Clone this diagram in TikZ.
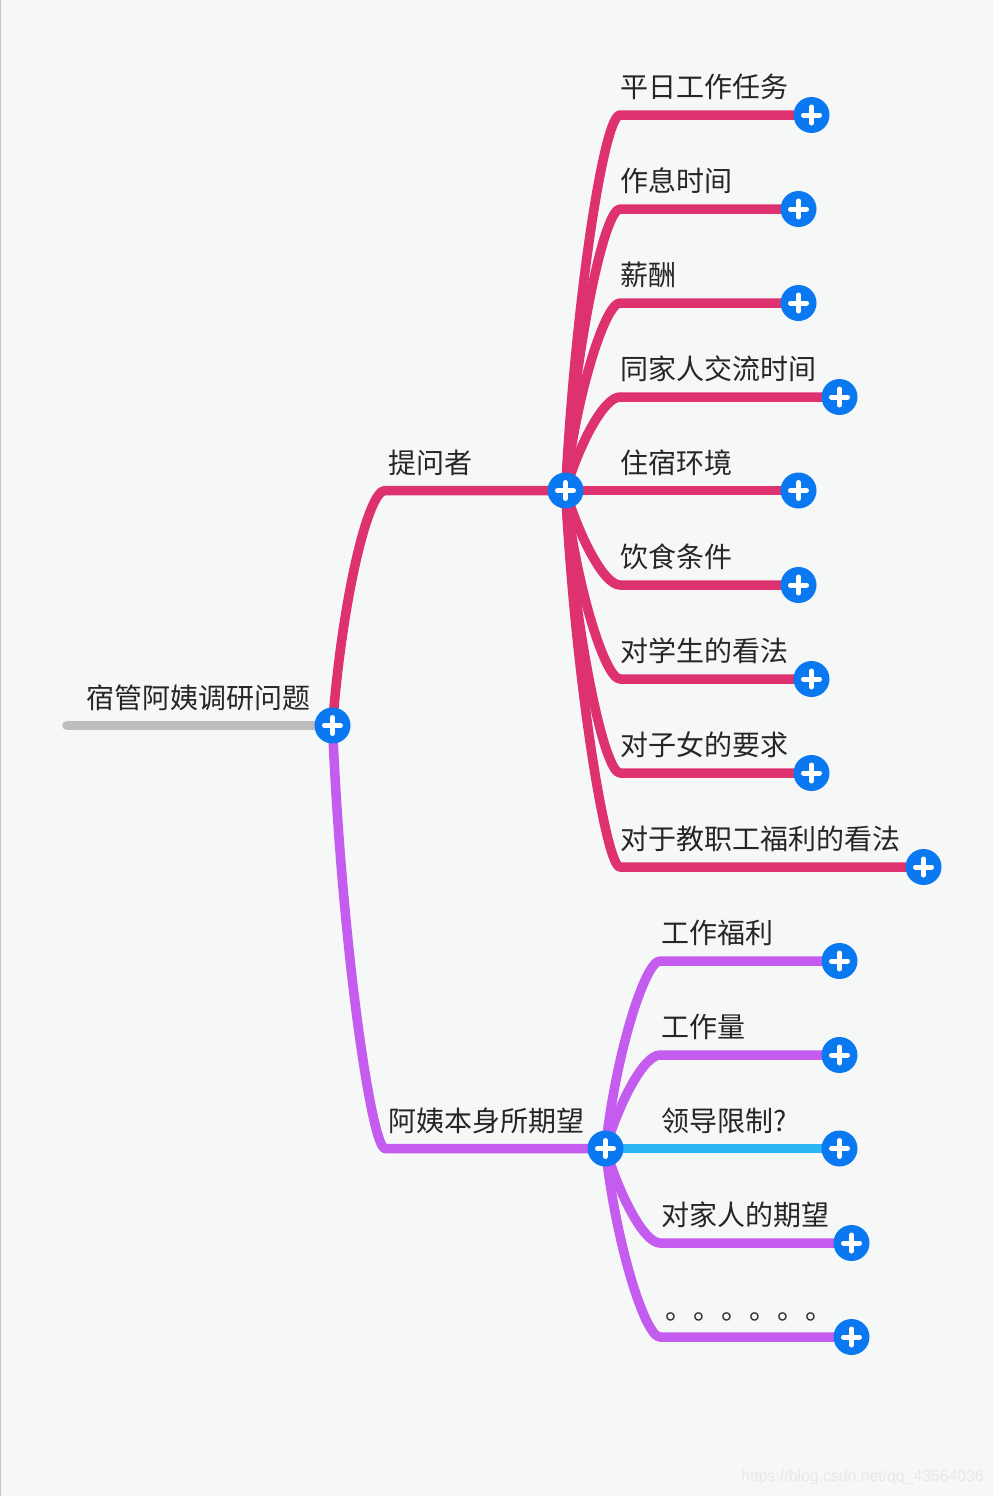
\documentclass[tikz,border=0pt]{standalone}
\usepackage{fontspec}
\setmainfont{Noto Sans CJK SC}
\newfontfamily\markfont{Liberation Sans}
\usetikzlibrary{positioning}
\definecolor{pagebg}{HTML}{F5F8F6}
\definecolor{btnblue}{HTML}{0A78F0}
\definecolor{pinkline}{HTML}{DE3170}
\definecolor{purpleline}{HTML}{C45CF0}
\definecolor{skyline}{HTML}{2BB5F5}
\definecolor{greyline}{HTML}{BDBDBD}
\pgfdeclarelayer{page}
\pgfdeclarelayer{wires}
\pgfsetlayers{page,wires,main}

\begin{document}
\begin{tikzpicture}[x=1pt,y=-1pt]
\tikzset{topic/.style={inner sep=0pt,outer sep=0pt,anchor=south west,text height=20pt,text depth=0pt,
  text=black!85,font=\fontsize{28}{28}\selectfont}}
\tikzset{addbtn/.style={circle,fill=btnblue,minimum size=36pt,inner sep=0pt,
  path picture={\draw[white,line width=5pt,line cap=round] (path picture bounding box.center) +(-8,0) -- +(8,0)
    (path picture bounding box.center) +(0,-8) -- +(0,8);}}}
\tikzset{branch/.style={draw,line width=9.5pt,line join=round,line cap=round}}
\tikzset{pinkbranch/.style={branch,pinkline}}
\tikzset{purplebranch/.style={branch,purpleline}}
	\useasboundingbox (0,0) rectangle (993,1496);
	\begin{pgfonlayer}{page}
		\fill[pagebg] (0,0) rectangle (993,1496);
		\fill[black!22] (0,0) rectangle (1,1496);
	\end{pgfonlayer}
	% main stem
	\node[addbtn] (root) at (332.5,725.5) {};
	\coordinate (start) at (67,725.5);
	\node[topic,above right=17.5pt and 19pt of start] (roottext) {宿管阿姨调研问题};
	\begin{pgfonlayer}{wires}
		\path[branch,greyline] (start) -- (root.center);
	\end{pgfonlayer}
	% first side
	\node[addbtn] (ask) at (565.5,490.5) {};
	\coordinate (askknee) at (385,490.5);
	\node[topic,above right=17.5pt and 3pt of askknee] (asktext) {提问者};
	\begin{pgfonlayer}{wires}
		\path[pinkbranch] (root.center) .. controls (342,600) and (368,490.5) .. (askknee) -- (ask.center);
	\end{pgfonlayer}
	\node[addbtn] (task) at (811.5,115) {};
	\coordinate (taskknee) at (620,115);
	\node[topic,above right=17.5pt and 0pt of taskknee] (tasktext) {平日工作任务};
	\node[addbtn] (rest) at (798.5,209) {};
	\coordinate (restknee) at (620,209);
	\node[topic,above right=17.5pt and 0pt of restknee] (resttext) {作息时间};
	\node[addbtn] (pay) at (798.5,303) {};
	\coordinate (payknee) at (620,303);
	\node[topic,above right=17.5pt and 0pt of payknee] (paytext) {薪酬};
	\node[addbtn] (family) at (839.5,397) {};
	\coordinate (familyknee) at (620,397);
	\node[topic,above right=17.5pt and 0pt of familyknee] (familytext) {同家人交流时间};
	\node[addbtn] (room) at (798.5,490.5) {};
	\node[topic,above right=17.5pt and 54.5pt of ask.center] (roomtext) {住宿环境};
	\node[addbtn] (food) at (798.5,585) {};
	\coordinate (foodknee) at (620,585);
	\node[topic,above right=17.5pt and 0pt of foodknee] (foodtext) {饮食条件};
	\node[addbtn] (student) at (811.5,679) {};
	\coordinate (studentknee) at (620,679);
	\node[topic,above right=17.5pt and 0pt of studentknee] (studenttext) {对学生的看法};
	\node[addbtn] (child) at (811.5,773) {};
	\coordinate (childknee) at (620,773);
	\node[topic,above right=17.5pt and 0pt of childknee] (childtext) {对子女的要求};
	\node[addbtn] (staff) at (923.5,867) {};
	\coordinate (staffknee) at (620,867);
	\node[topic,above right=17.5pt and 0pt of staffknee] (stafftext) {对于教职工福利的看法};
	\begin{pgfonlayer}{wires}
		\path[pinkbranch] (ask.center) .. controls +(10,-190) and +(-16,0) .. (taskknee) -- (task.center);
		\path[pinkbranch] (ask.center) .. controls +(9,-141) and +(-16,0) .. (restknee) -- (rest.center);
		\path[pinkbranch] (ask.center) .. controls +(10,-94) and +(-15,0) .. (payknee) -- (pay.center);
		\path[pinkbranch] (ask.center) .. controls +(14,-47) and +(-16,0) .. (familyknee) -- (family.center);
		\path[pinkbranch] (ask.center) -- (room.center);
		\path[pinkbranch] (ask.center) .. controls +(14,47) and +(-16,0) .. (foodknee) -- (food.center);
		\path[pinkbranch] (ask.center) .. controls +(10,94) and +(-15,0) .. (studentknee) -- (student.center);
		\path[pinkbranch] (ask.center) .. controls +(9,141) and +(-16,0) .. (childknee) -- (child.center);
		\path[pinkbranch] (ask.center) .. controls +(10,190) and +(-14,0) .. (staffknee) -- (staff.center);
	\end{pgfonlayer}
	% second side
	\node[addbtn] (hope) at (605.5,1148.5) {};
	\coordinate (hopeknee) at (385,1148.5);
	\node[topic,above right=17.5pt and 3pt of hopeknee] (hopetext) {阿姨本身所期望};
	\begin{pgfonlayer}{wires}
		\path[purplebranch] (root.center) .. controls (342,950) and (372,1148.5) .. (hopeknee) -- (hope.center);
	\end{pgfonlayer}
	\node[addbtn] (perk) at (839.5,961) {};
	\coordinate (perkknee) at (660,961);
	\node[topic,above right=17.5pt and 1.5pt of perkknee] (perktext) {工作福利};
	\node[addbtn] (load) at (839.5,1055) {};
	\coordinate (loadknee) at (660,1055);
	\node[topic,above right=17.5pt and 1.5pt of loadknee] (loadtext) {工作量};
	\node[addbtn] (boss) at (839.5,1148.5) {};
	\node[topic,above right=17.5pt and 56pt of hope.center] (bosstext) {领导限制?};
	\node[addbtn] (kin) at (851.5,1243) {};
	\coordinate (kinknee) at (660,1243);
	\node[topic,above right=17.5pt and 1.5pt of kinknee] (kintext) {对家人的期望};
	\node[addbtn] (more) at (851.5,1337) {};
	\coordinate (moreknee) at (660,1337);
	\node[topic,above right=17.5pt and 5pt of moreknee] (moretext) {。。。。。。};
	\begin{pgfonlayer}{wires}
		\path[purplebranch] (hope.center) .. controls +(10,-94) and +(-15,0) .. (perkknee) -- (perk.center);
		\path[purplebranch] (hope.center) .. controls +(14,-47) and +(-16,0) .. (loadknee) -- (load.center);
		\path[branch,skyline] (hope.center) -- (boss.center);
		\path[purplebranch] (hope.center) .. controls +(14,47) and +(-16,0) .. (kinknee) -- (kin.center);
		\path[purplebranch] (hope.center) .. controls +(10,94) and +(-15,0) .. (moreknee) -- (more.center);
	\end{pgfonlayer}
	\node[anchor=east,inner sep=0pt,text=black!9,font=\markfont\fontsize{15.8}{18}\selectfont] (mark) at (984,1477) {https://blog.csdn.net/qq\_43564036};
\end{tikzpicture}
\end{document}
